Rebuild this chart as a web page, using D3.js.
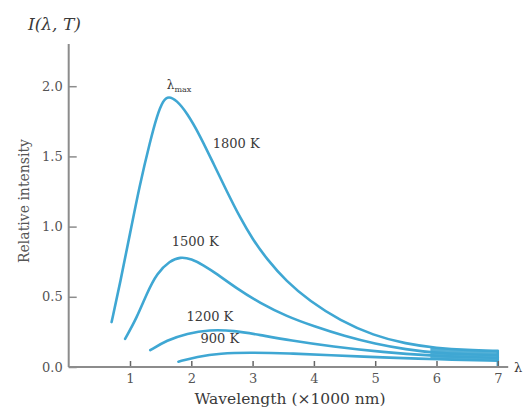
<!DOCTYPE html>
<html><head><meta charset="utf-8">
<script src="https://cdn.jsdelivr.net/npm/d3@7"></script>
<style>
body{margin:0;background:#fff;}
svg{display:block;}
text{font-family:"DejaVu Serif","Liberation Serif",serif;}
</style></head>
<body>
<svg id="c" width="529" height="408"></svg>
<script>
// ---- data ----
const xTicks = [1,2,3,4,5,6,7];
const yTicks = [0.0,0.5,1.0,1.5,2.0];
const yTickLabels = ["0.0","0.5","1.0","1.5","2.0"];

const lambda1800 = [0.70,0.84,1.0,1.16,1.33,1.44,1.54,1.63,1.76,1.93,2.14,2.36,2.58,2.80,3.0,3.23,3.55,3.93,4.43,4.97,5.5,6.0,6.5,7.0];
const int1800    = [0.32,0.60,0.95,1.30,1.61,1.79,1.90,1.93,1.90,1.81,1.65,1.45,1.25,1.06,0.91,0.77,0.61,0.47,0.33,0.225,0.165,0.135,0.12,0.115];

const lambda1500 = [0.92,1.11,1.27,1.44,1.65,1.82,2.0,2.2,2.41,2.74,3.12,3.56,4.0,4.5,5.0,5.5,6.0,6.5,7.0];
const int1500    = [0.20,0.35,0.52,0.67,0.755,0.785,0.77,0.725,0.665,0.56,0.455,0.36,0.29,0.22,0.165,0.125,0.10,0.09,0.085];

const lambda1200 = [1.33,1.6,1.93,2.3,2.69,3.12,3.61,4.3,5.13,5.94,6.5,7.0];
const int1200    = [0.12,0.19,0.24,0.265,0.26,0.228,0.19,0.145,0.105,0.08,0.07,0.065];

const lambda900  = [1.79,2.09,2.47,2.96,3.61,4.2,5.3,6.0,7.0];
const int900     = [0.038,0.073,0.098,0.103,0.097,0.085,0.065,0.055,0.045];

const bandLambda = [5.9,6.3,6.7,7.0];
const bandTop    = [0.14,0.127,0.12,0.115];
const bandBottom = [0.057,0.052,0.048,0.045];

const curveLabels = [
  {text:"1800 K", lam:2.35, val:1.56},
  {text:"1500 K", lam:1.68, val:0.86},
  {text:"1200 K", lam:1.92, val:0.33},
  {text:"900 K",  lam:2.15, val:0.17}
];

// ---- drawing ----
const svg = d3.select("#c");
const blue = "#3fa7d3";
const axisCol = "#8c8c8c";
const txtCol = "#3a3a3a";
const x = d3.scaleLinear().domain([0,7]).range([68.7,497.8]);
const y = d3.scaleLinear().domain([0,2]).range([367,86.2]);

const line = d3.line().x(d=>x(d[0])).y(d=>y(d[1])).curve(d3.curveBasis);
const zip = (a,b)=>a.map((v,i)=>[v,b[i]]);

// band fill at the right end
const area = d3.area().x(d=>x(d[0])).y0(d=>y(d[2])).y1(d=>y(d[1])).curve(d3.curveBasis);
svg.append("path")
  .attr("d", area(bandLambda.map((v,i)=>[v,bandTop[i],bandBottom[i]])))
  .attr("fill", blue).attr("opacity",0.9);
svg.append("line")
  .attr("x1",x(7)).attr("x2",x(7)).attr("y1",y(bandTop[3])).attr("y2",y(0))
  .attr("stroke",blue).attr("stroke-width",2.5);

[[lambda1800,int1800],[lambda1500,int1500],[lambda1200,int1200],[lambda900,int900]].forEach(([a,b])=>{
  svg.append("path").attr("d", line(zip(a,b)))
    .attr("fill","none").attr("stroke",blue).attr("stroke-width",2.6)
    .attr("stroke-linecap","round").attr("stroke-linejoin","round");
});

// axes
const yAxis = d3.axisLeft(y).tickValues(yTicks).tickFormat((d,i)=>yTickLabels[i])
  .tickSizeInner(-8).tickSizeOuter(0).tickPadding(6);
const gy = svg.append("g").attr("transform",`translate(${x(0)},0)`).call(yAxis);
gy.select(".domain").remove();
gy.selectAll(".tick line").attr("stroke",axisCol).attr("stroke-width",1.5);
gy.selectAll(".tick text").attr("fill","#555").style("font-size","13px").style("font-family","DejaVu Serif, serif");

const xAxis = d3.axisBottom(x).tickValues(xTicks).tickFormat(d3.format("d"))
  .tickSizeInner(-6).tickSizeOuter(0).tickPadding(7);
const gx = svg.append("g").attr("transform",`translate(0,${y(0)})`).call(xAxis);
gx.select(".domain").remove();
gx.selectAll(".tick line").attr("stroke","#666").attr("stroke-width",1.5);
gx.selectAll(".tick text").attr("fill","#555").style("font-size","13px").style("font-family","DejaVu Serif, serif");

// axis lines
svg.append("line").attr("x1",x(0)).attr("x2",x(0)).attr("y1",y(2.3)).attr("y2",y(0))
  .attr("stroke",axisCol).attr("stroke-width",2);
svg.append("line").attr("x1",x(0)).attr("x2",x(7.17)).attr("y1",y(0)).attr("y2",y(0))
  .attr("stroke",axisCol).attr("stroke-width",2);

// texts
svg.append("text").attr("x",28).attr("y",30).attr("font-style","italic")
  .attr("font-size",17).attr("fill",txtCol).text("I(λ, T)");
svg.append("text").attr("x",514).attr("y",372).attr("font-size",13).attr("fill",txtCol).text("λ");
svg.append("text").attr("transform","translate(29,201) rotate(-90)").attr("text-anchor","middle")
  .attr("font-size",14).attr("fill","#555").text("Relative intensity");
svg.append("text").attr("x",290).attr("y",404).attr("text-anchor","middle")
  .attr("font-size",15.5).attr("fill",txtCol).text("Wavelength (×1000 nm)");

const lm = svg.append("text").attr("x",x(1.6)).attr("y",y(1.98)).attr("font-size",12).attr("fill",txtCol);
lm.append("tspan").text("λ");
lm.append("tspan").attr("font-size",8).attr("dy",3).text("max");

curveLabels.forEach(l=>{
  svg.append("text").attr("x",x(l.lam)).attr("y",y(l.val)).attr("font-size",13)
    .attr("fill",txtCol).text(l.text);
});
</script>
</body></html>
